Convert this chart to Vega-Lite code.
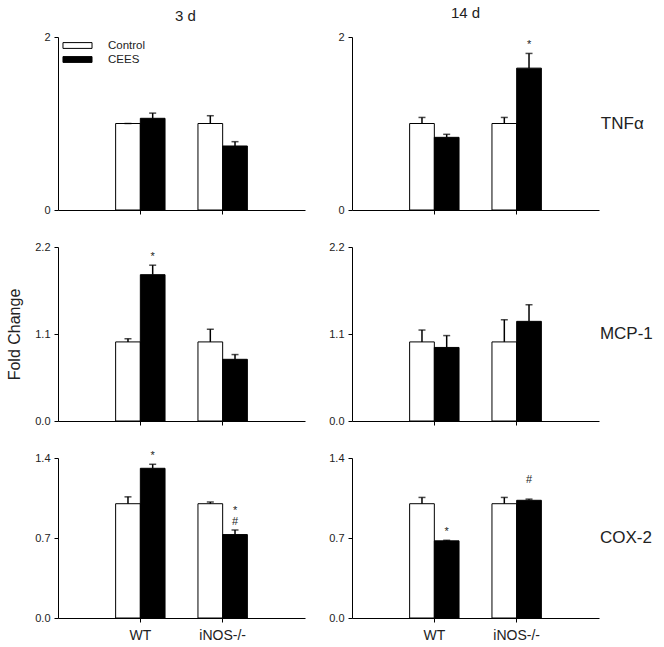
{
  "$schema": "https://vega.github.io/schema/vega-lite/v6.json",
  "background": "white",
  "padding": {"left": 6, "top": 6, "right": 2, "bottom": 2},
  "datasets": {
    "fc": [
      {"day": "3 d", "gene": "TNFα", "group": "WT", "treatment": "Control", "mean": 1.0, "upper": 1.0, "label": ""},
      {"day": "3 d", "gene": "TNFα", "group": "WT", "treatment": "CEES", "mean": 1.06, "upper": 1.12, "label": ""},
      {"day": "3 d", "gene": "TNFα", "group": "iNOS-/-", "treatment": "Control", "mean": 1.0, "upper": 1.09, "label": ""},
      {"day": "3 d", "gene": "TNFα", "group": "iNOS-/-", "treatment": "CEES", "mean": 0.74, "upper": 0.79, "label": ""},
      {"day": "14 d", "gene": "TNFα", "group": "WT", "treatment": "Control", "mean": 1.0, "upper": 1.07, "label": ""},
      {"day": "14 d", "gene": "TNFα", "group": "WT", "treatment": "CEES", "mean": 0.84, "upper": 0.875, "label": ""},
      {"day": "14 d", "gene": "TNFα", "group": "iNOS-/-", "treatment": "Control", "mean": 1.0, "upper": 1.07, "label": ""},
      {"day": "14 d", "gene": "TNFα", "group": "iNOS-/-", "treatment": "CEES", "mean": 1.64, "upper": 1.81, "label": " \n*"},
      {"day": "3 d", "gene": "MCP-1", "group": "WT", "treatment": "Control", "mean": 1.0, "upper": 1.04, "label": ""},
      {"day": "3 d", "gene": "MCP-1", "group": "WT", "treatment": "CEES", "mean": 1.85, "upper": 1.97, "label": " \n*"},
      {"day": "3 d", "gene": "MCP-1", "group": "iNOS-/-", "treatment": "Control", "mean": 1.0, "upper": 1.16, "label": ""},
      {"day": "3 d", "gene": "MCP-1", "group": "iNOS-/-", "treatment": "CEES", "mean": 0.78, "upper": 0.84, "label": ""},
      {"day": "14 d", "gene": "MCP-1", "group": "WT", "treatment": "Control", "mean": 1.0, "upper": 1.15, "label": ""},
      {"day": "14 d", "gene": "MCP-1", "group": "WT", "treatment": "CEES", "mean": 0.93, "upper": 1.08, "label": ""},
      {"day": "14 d", "gene": "MCP-1", "group": "iNOS-/-", "treatment": "Control", "mean": 1.0, "upper": 1.28, "label": ""},
      {"day": "14 d", "gene": "MCP-1", "group": "iNOS-/-", "treatment": "CEES", "mean": 1.26, "upper": 1.47, "label": ""},
      {"day": "3 d", "gene": "COX-2", "group": "WT", "treatment": "Control", "mean": 1.0, "upper": 1.06, "label": ""},
      {"day": "3 d", "gene": "COX-2", "group": "WT", "treatment": "CEES", "mean": 1.31, "upper": 1.345, "label": " \n*"},
      {"day": "3 d", "gene": "COX-2", "group": "iNOS-/-", "treatment": "Control", "mean": 1.0, "upper": 1.015, "label": ""},
      {"day": "3 d", "gene": "COX-2", "group": "iNOS-/-", "treatment": "CEES", "mean": 0.73, "upper": 0.77, "label": "*\n#"},
      {"day": "14 d", "gene": "COX-2", "group": "WT", "treatment": "Control", "mean": 1.0, "upper": 1.055, "label": ""},
      {"day": "14 d", "gene": "COX-2", "group": "WT", "treatment": "CEES", "mean": 0.675, "upper": 0.68, "label": " \n*"},
      {"day": "14 d", "gene": "COX-2", "group": "iNOS-/-", "treatment": "Control", "mean": 1.0, "upper": 1.055, "label": ""},
      {"day": "14 d", "gene": "COX-2", "group": "iNOS-/-", "treatment": "CEES", "mean": 1.03, "upper": 1.04, "label": "#"}
    ]
  },
  "data": {"name": "fc"},
  "config": {
    "font": "Liberation Sans",
    "view": {"stroke": null},
    "axis": {"grid": false, "domainColor": "black", "tickColor": "black", "labelColor": "#222", "labelFont": "Liberation Sans", "tickSize": 4, "domainWidth": 1, "tickWidth": 1, "titleFont": "Liberation Sans", "titleFontWeight": "normal", "titleColor": "#222"},
    "axisX": {"labelFontSize": 14, "labelPadding": 6, "labelAngle": 0},
    "axisY": {"labelFontSize": 11, "labelPadding": 4},
    "title": {"font": "Liberation Sans", "fontWeight": "normal", "color": "#222"},
    "text": {"font": "Liberation Sans"}
  },
  "spacing": 23,
  "align": "none",
  "resolve": {"legend": {"color": "independent"}},
  "hconcat": [
    {
      "title": {"text": "3 d", "fontSize": 15, "anchor": "start", "frame": "group", "offset": 7, "dx": 117},
      "spacing": 37,
      "bounds": "flush",
      "resolve": {"legend": {"color": "independent"}},
      "vconcat": [
        {
          "width": 247, "height": 173,
          "transform": [{"filter": {"and": [{"field": "gene", "equal": "TNFα"}, {"field": "day", "equal": "3 d"}]}}],
          "encoding": {
            "x": {"field": "group", "type": "nominal", "sort": ["WT", "iNOS-/-"], "scale": {"paddingInner": 0.4, "paddingOuter": 0.7}, "axis": {"title": null, "labels": false}},
            "xOffset": {"field": "treatment", "type": "nominal", "sort": ["Control", "CEES"]}
          },
          "layer": [
            {"mark": {"type": "bar", "stroke": "black", "strokeWidth": 1},
             "encoding": {
               "y": {"field": "mean", "type": "quantitative", "scale": {"domain": [0, 2], "nice": false}, "axis": {"values": [0, 1, 2], "format": "d", "title": null}},
               "color": {"field": "treatment", "type": "nominal", "scale": {"domain": ["Control", "CEES"], "range": ["white", "black"]},
                 "legend": {"title": null, "orient": "top-left", "offset": 2, "symbolType": "M-2.5,-0.5L2.5,-0.5L2.5,0.5L-2.5,0.5Z", "symbolSize": 135, "symbolOffset": 11, "symbolStrokeColor": "black", "symbolStrokeWidth": 1, "labelFontSize": 11.5, "labelOffset": 24, "rowPadding": 2, "labelFont": "Liberation Sans", "labelColor": "#222"}}
             }},
            {"mark": {"type": "rule", "strokeWidth": 1.5, "color": "black"}, "encoding": {"y": {"field": "mean", "type": "quantitative"}, "y2": {"field": "upper"}}},
            {"mark": {"type": "tick", "size": 7, "thickness": 1.5, "color": "black"}, "encoding": {"y": {"field": "upper", "type": "quantitative"}}},
            {"mark": {"type": "text", "baseline": "bottom", "dy": -14, "fontSize": 11, "lineBreak": "\n", "lineHeight": 11, "color": "#222"}, "encoding": {"y": {"field": "upper", "type": "quantitative"}, "text": {"field": "label", "type": "nominal"}}}
          ]
        },
        {
          "width": 247, "height": 174,
          "transform": [{"filter": {"and": [{"field": "gene", "equal": "MCP-1"}, {"field": "day", "equal": "3 d"}]}}],
          "encoding": {
            "x": {"field": "group", "type": "nominal", "sort": ["WT", "iNOS-/-"], "scale": {"paddingInner": 0.4, "paddingOuter": 0.7}, "axis": {"title": null, "labels": false}},
            "xOffset": {"field": "treatment", "type": "nominal", "sort": ["Control", "CEES"]}
          },
          "layer": [
            {"mark": {"type": "bar", "stroke": "black", "strokeWidth": 1},
             "encoding": {
               "y": {"field": "mean", "type": "quantitative", "scale": {"domain": [0, 2.2], "nice": false}, "axis": {"values": [0, 1.1, 2.2], "format": ".1f", "title": "Fold Change", "titleFontSize": 16, "titlePadding": 12}},
               "color": {"field": "treatment", "type": "nominal", "scale": {"domain": ["Control", "CEES"], "range": ["white", "black"]}, "legend": null}
             }},
            {"mark": {"type": "rule", "strokeWidth": 1.5, "color": "black"}, "encoding": {"y": {"field": "mean", "type": "quantitative"}, "y2": {"field": "upper"}}},
            {"mark": {"type": "tick", "size": 7, "thickness": 1.5, "color": "black"}, "encoding": {"y": {"field": "upper", "type": "quantitative"}}},
            {"mark": {"type": "text", "baseline": "bottom", "dy": -14, "fontSize": 11, "lineBreak": "\n", "lineHeight": 11, "color": "#222"}, "encoding": {"y": {"field": "upper", "type": "quantitative"}, "text": {"field": "label", "type": "nominal"}}}
          ]
        },
        {
          "width": 247, "height": 160,
          "transform": [{"filter": {"and": [{"field": "gene", "equal": "COX-2"}, {"field": "day", "equal": "3 d"}]}}],
          "encoding": {
            "x": {"field": "group", "type": "nominal", "sort": ["WT", "iNOS-/-"], "scale": {"paddingInner": 0.4, "paddingOuter": 0.7}, "axis": {"title": null, "labels": true}},
            "xOffset": {"field": "treatment", "type": "nominal", "sort": ["Control", "CEES"]}
          },
          "layer": [
            {"mark": {"type": "bar", "stroke": "black", "strokeWidth": 1},
             "encoding": {
               "y": {"field": "mean", "type": "quantitative", "scale": {"domain": [0, 1.4], "nice": false}, "axis": {"values": [0, 0.7, 1.4], "format": ".1f", "title": null}},
               "color": {"field": "treatment", "type": "nominal", "scale": {"domain": ["Control", "CEES"], "range": ["white", "black"]}, "legend": null}
             }},
            {"mark": {"type": "rule", "strokeWidth": 1.5, "color": "black"}, "encoding": {"y": {"field": "mean", "type": "quantitative"}, "y2": {"field": "upper"}}},
            {"mark": {"type": "tick", "size": 7, "thickness": 1.5, "color": "black"}, "encoding": {"y": {"field": "upper", "type": "quantitative"}}},
            {"mark": {"type": "text", "baseline": "bottom", "dy": -14, "fontSize": 11, "lineBreak": "\n", "lineHeight": 11, "color": "#222"}, "encoding": {"y": {"field": "upper", "type": "quantitative"}, "text": {"field": "label", "type": "nominal"}}}
          ]
        }
      ]
    },
    {
      "title": {"text": "14 d", "fontSize": 15, "anchor": "start", "frame": "group", "offset": 7, "dx": 99},
      "spacing": 37,
      "bounds": "flush",
      "resolve": {"legend": {"color": "independent"}},
      "vconcat": [
        {
          "width": 247, "height": 173,
          "title": {"text": "TNFα", "orient": "right", "angle": 0, "align": "left", "baseline": "middle", "anchor": "middle", "offset": -41, "fontSize": 17},
          "transform": [{"filter": {"and": [{"field": "gene", "equal": "TNFα"}, {"field": "day", "equal": "14 d"}]}}],
          "encoding": {
            "x": {"field": "group", "type": "nominal", "sort": ["WT", "iNOS-/-"], "scale": {"paddingInner": 0.4, "paddingOuter": 0.7}, "axis": {"title": null, "labels": false}},
            "xOffset": {"field": "treatment", "type": "nominal", "sort": ["Control", "CEES"]}
          },
          "layer": [
            {"mark": {"type": "bar", "stroke": "black", "strokeWidth": 1},
             "encoding": {
               "y": {"field": "mean", "type": "quantitative", "scale": {"domain": [0, 2], "nice": false}, "axis": {"values": [0, 1, 2], "format": "d", "title": null}},
               "color": {"field": "treatment", "type": "nominal", "scale": {"domain": ["Control", "CEES"], "range": ["white", "black"]}, "legend": null}
             }},
            {"mark": {"type": "rule", "strokeWidth": 1.5, "color": "black"}, "encoding": {"y": {"field": "mean", "type": "quantitative"}, "y2": {"field": "upper"}}},
            {"mark": {"type": "tick", "size": 7, "thickness": 1.5, "color": "black"}, "encoding": {"y": {"field": "upper", "type": "quantitative"}}},
            {"mark": {"type": "text", "baseline": "bottom", "dy": -14, "fontSize": 11, "lineBreak": "\n", "lineHeight": 11, "color": "#222"}, "encoding": {"y": {"field": "upper", "type": "quantitative"}, "text": {"field": "label", "type": "nominal"}}}
          ]
        },
        {
          "width": 247, "height": 174,
          "title": {"text": "MCP-1", "orient": "right", "angle": 0, "align": "left", "baseline": "middle", "anchor": "middle", "offset": -52, "fontSize": 17},
          "transform": [{"filter": {"and": [{"field": "gene", "equal": "MCP-1"}, {"field": "day", "equal": "14 d"}]}}],
          "encoding": {
            "x": {"field": "group", "type": "nominal", "sort": ["WT", "iNOS-/-"], "scale": {"paddingInner": 0.4, "paddingOuter": 0.7}, "axis": {"title": null, "labels": false}},
            "xOffset": {"field": "treatment", "type": "nominal", "sort": ["Control", "CEES"]}
          },
          "layer": [
            {"mark": {"type": "bar", "stroke": "black", "strokeWidth": 1},
             "encoding": {
               "y": {"field": "mean", "type": "quantitative", "scale": {"domain": [0, 2.2], "nice": false}, "axis": {"values": [0, 1.1, 2.2], "format": ".1f", "title": null}},
               "color": {"field": "treatment", "type": "nominal", "scale": {"domain": ["Control", "CEES"], "range": ["white", "black"]}, "legend": null}
             }},
            {"mark": {"type": "rule", "strokeWidth": 1.5, "color": "black"}, "encoding": {"y": {"field": "mean", "type": "quantitative"}, "y2": {"field": "upper"}}},
            {"mark": {"type": "tick", "size": 7, "thickness": 1.5, "color": "black"}, "encoding": {"y": {"field": "upper", "type": "quantitative"}}},
            {"mark": {"type": "text", "baseline": "bottom", "dy": -14, "fontSize": 11, "lineBreak": "\n", "lineHeight": 11, "color": "#222"}, "encoding": {"y": {"field": "upper", "type": "quantitative"}, "text": {"field": "label", "type": "nominal"}}}
          ]
        },
        {
          "width": 247, "height": 160,
          "title": {"text": "COX-2", "orient": "right", "angle": 0, "align": "left", "baseline": "middle", "anchor": "middle", "offset": -51, "fontSize": 17},
          "transform": [{"filter": {"and": [{"field": "gene", "equal": "COX-2"}, {"field": "day", "equal": "14 d"}]}}],
          "encoding": {
            "x": {"field": "group", "type": "nominal", "sort": ["WT", "iNOS-/-"], "scale": {"paddingInner": 0.4, "paddingOuter": 0.7}, "axis": {"title": null, "labels": true}},
            "xOffset": {"field": "treatment", "type": "nominal", "sort": ["Control", "CEES"]}
          },
          "layer": [
            {"mark": {"type": "bar", "stroke": "black", "strokeWidth": 1},
             "encoding": {
               "y": {"field": "mean", "type": "quantitative", "scale": {"domain": [0, 1.4], "nice": false}, "axis": {"values": [0, 0.7, 1.4], "format": ".1f", "title": null}},
               "color": {"field": "treatment", "type": "nominal", "scale": {"domain": ["Control", "CEES"], "range": ["white", "black"]}, "legend": null}
             }},
            {"mark": {"type": "rule", "strokeWidth": 1.5, "color": "black"}, "encoding": {"y": {"field": "mean", "type": "quantitative"}, "y2": {"field": "upper"}}},
            {"mark": {"type": "tick", "size": 7, "thickness": 1.5, "color": "black"}, "encoding": {"y": {"field": "upper", "type": "quantitative"}}},
            {"mark": {"type": "text", "baseline": "bottom", "dy": -14, "fontSize": 11, "lineBreak": "\n", "lineHeight": 11, "color": "#222"}, "encoding": {"y": {"field": "upper", "type": "quantitative"}, "text": {"field": "label", "type": "nominal"}}}
          ]
        }
      ]
    }
  ]
}
